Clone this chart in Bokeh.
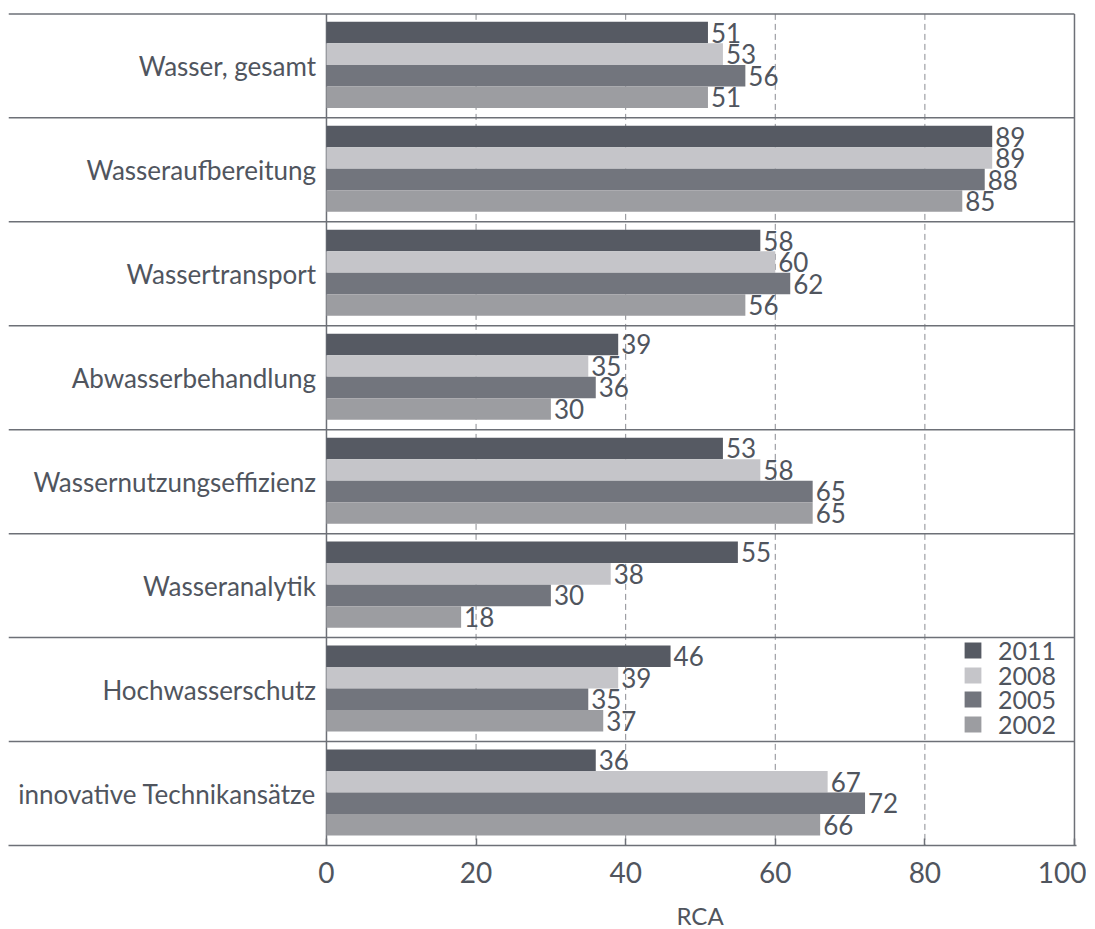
from bokeh.plotting import figure
from bokeh.models import (ColumnDataSource, Range1d, FixedTicker, Legend, LegendItem,
                          Title, LabelSet)
from bokeh.core.properties import value
from bokeh.embed import file_html
from bokeh.resources import INLINE

categories = ["Wasser, gesamt", "Wasseraufbereitung", "Wassertransport", "Abwasserbehandlung",
              "Wassernutzungseffizienz", "Wasseranalytik", "Hochwasserschutz",
              "innovative Technikansätze"]
years = ["2011", "2008", "2005", "2002"]
v2011 = [51, 89, 58, 39, 53, 55, 46, 36]
v2008 = [53, 89, 60, 35, 58, 38, 39, 67]
v2005 = [56, 88, 62, 36, 65, 30, 35, 72]
v2002 = [51, 85, 56, 30, 65, 18, 37, 66]
series = [v2011, v2008, v2005, v2002]
colors = ["#565a63", "#c5c5c9", "#72757d", "#9c9da1"]
x_ticks = [0, 20, 40, 60, 80, 100]
axis_title = "RCA"

FONT = "Lato"
TXT = "#50555e"
LINE = "#6d7077"

n = len(categories)
bar_h = 0.207
first = 0.18

p = figure(frame_width=1068, frame_height=842,
           x_range=Range1d(-42.51, 100.27), y_range=Range1d(n + 0.0, -0.1),
           output_backend="svg", toolbar_location=None, y_axis_location=None,
           min_border_left=8, min_border_top=3, min_border_right=10, min_border_bottom=60)
p.outline_line_color = None
p.grid.grid_line_color = None
p.background_fill_color = "white"

# gridlines and frame lines
grid_x = x_ticks[1:-1]
p.segment(x0=grid_x, x1=grid_x, y0=[0] * len(grid_x), y1=[n] * len(grid_x),
          line_color="#8a8c92", line_width=1, line_dash="6 4")
p.segment(x0=[-42.51] * n, x1=[100] * n, y0=list(range(n)), y1=list(range(n)),
          line_color=LINE, line_width=1.5)
p.segment(x0=[x_ticks[0], x_ticks[-1]], x1=[x_ticks[0], x_ticks[-1]],
          y0=[0, 0], y1=[n, n], line_color=LINE, line_width=1.5)

legend_items = []
for k, (yr, vals, col) in enumerate(zip(years, series, colors)):
    ys = [i + first + k * bar_h for i in range(n)]
    src = ColumnDataSource(dict(y=ys, v=vals, t=[str(x) for x in vals]))
    r = p.hbar(y="y", left=0, right="v", height=bar_h, source=src,
               fill_color=col, line_color=None)
    legend_items.append(LegendItem(label=yr, renderers=[r]))
    labels = LabelSet(x="v", y="y", text="t", source=src, x_offset=3,
                      text_baseline="middle", text_align="left",
                      text_font=value(FONT), text_font_size="26px", text_color=TXT)
    p.add_layout(labels)

# category labels
p.text(x=[-1.4] * n, y=[i + 0.5 for i in range(n)], text=categories,
       text_align="right", text_baseline="middle", text_font=value(FONT),
       text_font_size="26px", text_color=TXT)

ax = p.xaxis[0]
ax.ticker = FixedTicker(ticks=x_ticks)
ax.axis_line_color = LINE
ax.axis_line_width = 1.5
ax.major_tick_line_color = LINE
ax.major_tick_line_width = 1.5
ax.major_tick_in = 7
ax.major_tick_out = 0
ax.minor_tick_line_color = None
ax.major_label_text_font = FONT
ax.major_label_text_font_size = "28px"
ax.major_label_text_color = TXT
ax.major_label_standoff = 16

p.add_layout(Title(text=axis_title, align="left", offset=668, text_font=FONT,
                   text_font_size="24px", text_font_style="normal",
                   text_color=TXT, standoff=26), "below")

# legend: one compact entry per row, rows ~24.7px apart
row_bottoms = [180, 155, 131, 106]
for item, yb in zip(legend_items, row_bottoms):
    lg = Legend(items=[item], location=(954, yb), orientation="vertical",
                glyph_width=21, glyph_height=20, label_height=20, spacing=0,
                padding=0, margin=0, label_standoff=15,
                label_text_font=FONT, label_text_font_size="25px",
                label_text_color=TXT, border_line_color=None,
                background_fill_alpha=0)
    p.add_layout(lg)

open("out.html", "w").write(file_html(p, INLINE))
